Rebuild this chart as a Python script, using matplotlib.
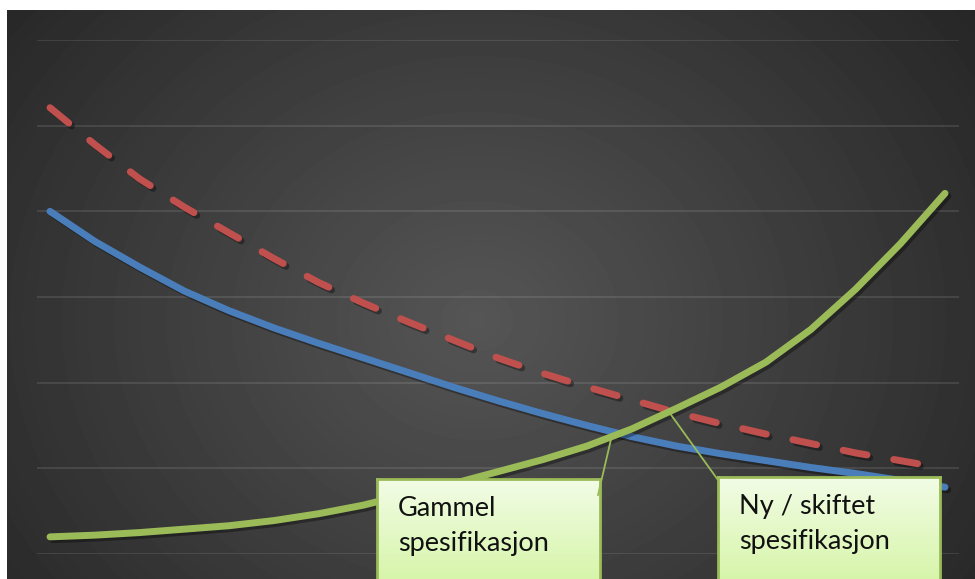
"""Spec curves: old vs shifted specification, dark radial background."""
import matplotlib

matplotlib.use("Agg")
import matplotlib.pyplot as plt  # noqa: E402
import matplotlib.patheffects as pe  # noqa: E402
import numpy as np  # noqa: E402
from matplotlib.lines import Line2D  # noqa: E402

W, H = 975, 579

x_pts = [0, 0.5, 1, 1.5, 2, 2.5, 3, 3.5, 4, 4.5, 5, 5.5, 6, 6.5, 7, 7.5, 8, 8.5, 9, 9.5, 10]
blue_vals = [4.00, 3.65, 3.35, 3.07, 2.84, 2.64, 2.46, 2.29, 2.12, 1.95, 1.79,
             1.64, 1.50, 1.37, 1.26, 1.17, 1.09, 1.01, 0.94, 0.86, 0.78]
green_vals = [0.20, 0.22, 0.25, 0.29, 0.33, 0.39, 0.47, 0.57, 0.70, 0.82, 0.96,
              1.10, 1.26, 1.46, 1.70, 1.95, 2.24, 2.62, 3.09, 3.62, 4.21]
red_x = [0, 0.5, 1, 1.5, 2, 2.5, 3, 3.5, 4, 4.5, 5, 5.5, 6, 6.5, 7, 7.5, 8, 8.5, 9, 9.5, 9.72]
red_vals = [5.21, 4.78, 4.38, 4.05, 3.75, 3.45, 3.17, 2.93, 2.71, 2.50, 2.29,
            2.11, 1.95, 1.80, 1.65, 1.52, 1.40, 1.29, 1.18, 1.09, 1.05]

label_old = ["Gammel", "spesifikasjon"]
label_new = ["Ny / skiftet", "spesifikasjon"]

BLUE = "#4a7ebb"
RED = "#c0504d"
GREEN = "#9bbb59"


def px_box(x0, y0, x1, y1):
    """pixel box (top-left origin) -> figure fraction rect"""
    return [x0 / W, 1 - y1 / H, (x1 - x0) / W, (y1 - y0) / H]


fig = plt.figure(figsize=(W / 100, H / 100), dpi=100, facecolor="white")

# radial gradient background
bg = fig.add_axes(px_box(7, 10, W, H))
yy, xx = np.mgrid[0:569, 0:968]
r = np.hypot((xx - 470) / 1.0, (yy - 310) / 0.85)
t = np.clip(r / 620, 0, 1)
shade = 0.335 - (0.335 - 0.15) * t
bg.imshow(shade, cmap="gray", vmin=0, vmax=1, aspect="auto", interpolation="bilinear")
bg.axis("off")

ax = fig.add_axes(px_box(37, 40, 959, 554))
ax.set_facecolor("none")
ax.set_xlim(-13 / 89.5, 909 / 89.5)
ax.set_ylim(0, 6)
ax.set_yticks(range(7))
ax.grid(axis="y", color="white", alpha=0.1, lw=1.5)
ax.tick_params(left=False, bottom=False, labelleft=False, labelbottom=False)
for s in ax.spines.values():
    s.set_visible(False)

shadow = [pe.SimpleLineShadow(offset=(2, -2), shadow_color="black", alpha=0.35), pe.Normal()]
ax.plot(red_x, red_vals, color=RED, lw=5, ls=(0, (3.5, 3.9)), dash_capstyle="round",
        solid_joinstyle="round", path_effects=shadow, clip_on=False)
ax.plot(x_pts, blue_vals, color=BLUE, lw=5, solid_capstyle="round",
        solid_joinstyle="round", path_effects=shadow, clip_on=False)
ax.plot(x_pts, green_vals, color=GREEN, lw=5, solid_capstyle="round",
        solid_joinstyle="round", path_effects=shadow, clip_on=False)

# callout leader lines
fig.add_artist(Line2D([598 / W, 612 / W], [1 - 495 / H, 1 - 435 / H], color=GREEN, lw=1.3))
fig.add_artist(Line2D([718 / W, 669 / W], [1 - 480 / H, 1 - 412 / H], color=GREEN, lw=1.3))

# callout boxes with light green gradient
grad = np.linspace(0, 1, 100)[:, None]
top_c = np.array([242, 252, 230]) / 255
bot_c = np.array([214, 245, 168]) / 255
img = top_c + (bot_c - top_c) * grad[..., None]
for x0, x1, y0, lines in [(377, 600, 479, label_old), (718, 940, 477, label_new)]:
    bx = fig.add_axes(px_box(x0, y0, x1, H + 4))
    bx.imshow(img, aspect="auto", extent=(0, 1, 0, 1))
    bx.set_xticks([])
    bx.set_yticks([])
    for side, s in bx.spines.items():
        s.set_color(GREEN)
        s.set_linewidth(2)
    bx.spines["bottom"].set_visible(False)
    for i, line in enumerate(lines):
        fig.text((x0 + 21) / W, 1 - (y0 + 37 + 35 * i) / H, line, family="Lato",
                 fontsize=19.5, color="#111111", va="baseline", ha="left")

fig.savefig("out.png", dpi=100, facecolor="white")
